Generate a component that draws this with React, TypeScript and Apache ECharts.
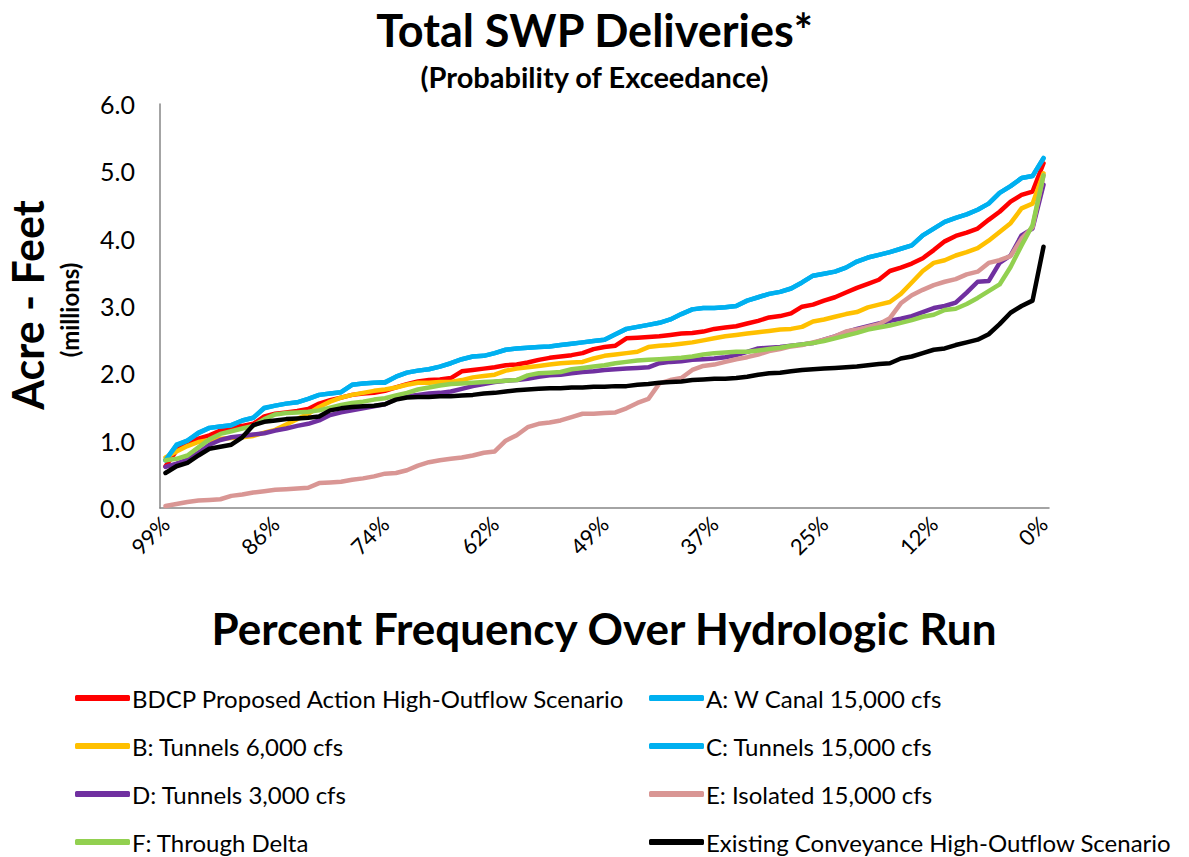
import React, { useEffect, useRef } from "react";
import * as echarts from "echarts";

const FONT = "Lato, 'Open Sans', sans-serif";

const seriesNames = [
  "BDCP Proposed Action High-Outflow Scenario",
  "A: W Canal 15,000 cfs",
  "B: Tunnels 6,000 cfs",
  "C: Tunnels 15,000 cfs",
  "D: Tunnels 3,000 cfs",
  "E: Isolated 15,000 cfs",
  "F: Through Delta",
  "Existing Conveyance High-Outflow Scenario",
];
const seriesColors = ["#FF0000", "#00B0F0", "#FFC000", "#00B0F0", "#7030A0", "#D99694", "#92D050", "#000000"];

// Exceedance categories (81 sorted years), shown every 10th
const categories = [
  "99%","98%","96%","95%","94%","93%","91%","90%","89%","88%",
  "86%","85%","84%","83%","81%","80%","79%","78%","77%","75%",
  "74%","73%","72%","70%","69%","68%","67%","65%","64%","63%",
  "62%","60%","59%","58%","57%","56%","54%","53%","52%","51%",
  "49%","48%","47%","46%","44%","43%","42%","41%","40%","38%",
  "37%","36%","35%","33%","32%","31%","30%","28%","27%","26%",
  "25%","23%","22%","21%","20%","19%","17%","16%","15%","14%",
  "12%","11%","10%","9%","7%","6%","5%","4%","2%","1%",
  "0%",
];

const yTicks = [0, 1, 2, 3, 4, 5, 6];

const bdcp = [
  0.62,0.85,0.98,1.03,1.08,1.15,1.20,1.22,1.25,1.36,
  1.40,1.42,1.44,1.47,1.55,1.60,1.64,1.68,1.70,1.71,
  1.74,1.79,1.84,1.88,1.90,1.91,1.93,2.03,2.05,2.07,
  2.09,2.12,2.13,2.16,2.20,2.23,2.25,2.27,2.30,2.36,
  2.39,2.41,2.52,2.53,2.54,2.55,2.57,2.59,2.60,2.62,
  2.66,2.68,2.70,2.74,2.78,2.83,2.85,2.89,2.99,3.02,
  3.08,3.13,3.20,3.27,3.33,3.39,3.52,3.57,3.63,3.71,
  3.83,3.96,4.04,4.09,4.15,4.28,4.40,4.55,4.65,4.70,
  5.12,
];
const altA = [
  0.71,0.94,1.00,1.12,1.19,1.21,1.23,1.30,1.34,1.49,
  1.52,1.55,1.57,1.62,1.68,1.70,1.72,1.83,1.85,1.86,
  1.86,1.95,2.01,2.04,2.06,2.10,2.15,2.21,2.25,2.26,
  2.30,2.35,2.37,2.38,2.39,2.40,2.42,2.44,2.46,2.48,
  2.50,2.58,2.66,2.69,2.72,2.75,2.80,2.88,2.95,2.97,
  2.97,2.98,3.00,3.08,3.13,3.18,3.21,3.26,3.35,3.45,
  3.48,3.51,3.57,3.66,3.72,3.76,3.80,3.85,3.90,4.05,
  4.15,4.25,4.31,4.36,4.43,4.52,4.68,4.78,4.90,4.93,
  5.20,
];
const altB = [
  0.75,0.84,0.92,0.98,1.01,1.03,1.04,1.05,1.07,1.12,
  1.16,1.24,1.32,1.40,1.50,1.58,1.64,1.68,1.71,1.74,
  1.76,1.79,1.83,1.86,1.86,1.87,1.87,1.90,1.94,1.96,
  1.98,2.04,2.07,2.09,2.11,2.13,2.15,2.16,2.17,2.22,
  2.26,2.28,2.30,2.32,2.39,2.41,2.42,2.44,2.46,2.49,
  2.52,2.55,2.57,2.59,2.61,2.63,2.65,2.66,2.69,2.77,
  2.80,2.84,2.88,2.91,2.98,3.02,3.06,3.18,3.35,3.52,
  3.64,3.68,3.75,3.80,3.86,3.97,4.10,4.23,4.45,4.52,
  4.97,
];
const altC = [
  0.71,0.93,1.00,1.11,1.19,1.21,1.23,1.30,1.34,1.48,
  1.52,1.55,1.57,1.62,1.68,1.70,1.72,1.83,1.85,1.86,
  1.87,1.95,2.01,2.04,2.06,2.10,2.15,2.21,2.25,2.26,
  2.30,2.35,2.37,2.38,2.39,2.40,2.42,2.44,2.46,2.48,
  2.50,2.58,2.66,2.69,2.72,2.75,2.80,2.88,2.95,2.97,
  2.97,2.98,3.00,3.08,3.13,3.18,3.21,3.26,3.35,3.45,
  3.48,3.51,3.57,3.66,3.72,3.76,3.80,3.85,3.90,4.05,
  4.15,4.25,4.31,4.36,4.43,4.52,4.68,4.78,4.90,4.93,
  5.19,
];
const altD = [
  0.61,0.66,0.72,0.82,0.94,1.01,1.05,1.07,1.09,1.11,
  1.15,1.18,1.22,1.25,1.30,1.38,1.42,1.45,1.48,1.51,
  1.54,1.62,1.66,1.68,1.70,1.71,1.73,1.77,1.81,1.84,
  1.87,1.89,1.90,1.92,1.95,1.97,1.98,2.00,2.02,2.03,
  2.05,2.06,2.07,2.08,2.09,2.15,2.17,2.18,2.20,2.21,
  2.22,2.24,2.27,2.32,2.37,2.38,2.39,2.41,2.43,2.45,
  2.50,2.55,2.61,2.66,2.70,2.74,2.78,2.81,2.85,2.91,
  2.97,3.00,3.05,3.20,3.36,3.37,3.64,3.75,4.05,4.15,
  4.80,
];
const altE = [
  0.03,0.06,0.09,0.11,0.12,0.13,0.18,0.20,0.23,0.25,
  0.27,0.28,0.29,0.30,0.37,0.38,0.39,0.42,0.44,0.47,
  0.51,0.52,0.56,0.63,0.68,0.71,0.73,0.75,0.78,0.82,
  0.84,1.00,1.08,1.20,1.25,1.27,1.30,1.35,1.40,1.40,
  1.41,1.42,1.48,1.56,1.62,1.85,1.90,1.93,2.05,2.11,
  2.13,2.17,2.21,2.24,2.28,2.33,2.36,2.40,2.42,2.46,
  2.50,2.55,2.62,2.65,2.69,2.73,2.82,3.04,3.16,3.24,
  3.31,3.36,3.40,3.47,3.51,3.64,3.68,3.74,4.00,4.17,
  4.94,
];
const altF = [
  0.71,0.73,0.78,0.90,1.02,1.10,1.14,1.18,1.22,1.32,
  1.39,1.41,1.42,1.43,1.45,1.49,1.53,1.56,1.58,1.61,
  1.63,1.67,1.71,1.76,1.79,1.82,1.84,1.85,1.86,1.87,
  1.88,1.89,1.90,1.97,2.00,2.01,2.02,2.06,2.08,2.10,
  2.12,2.15,2.17,2.19,2.20,2.21,2.22,2.23,2.25,2.28,
  2.30,2.31,2.32,2.32,2.34,2.36,2.38,2.41,2.43,2.45,
  2.48,2.52,2.56,2.60,2.65,2.68,2.71,2.75,2.79,2.84,
  2.87,2.94,2.96,3.03,3.12,3.22,3.32,3.58,3.90,4.20,
  4.94,
];
const existing = [
  0.52,0.62,0.67,0.78,0.88,0.91,0.94,1.05,1.23,1.28,
  1.30,1.32,1.33,1.34,1.36,1.45,1.48,1.50,1.51,1.52,
  1.54,1.61,1.64,1.65,1.65,1.66,1.66,1.67,1.68,1.70,
  1.71,1.73,1.75,1.76,1.77,1.78,1.78,1.79,1.79,1.80,
  1.80,1.81,1.81,1.83,1.84,1.86,1.87,1.88,1.90,1.91,
  1.92,1.92,1.93,1.95,1.98,2.00,2.01,2.03,2.05,2.06,
  2.07,2.08,2.09,2.10,2.12,2.14,2.15,2.22,2.25,2.30,
  2.35,2.37,2.42,2.46,2.50,2.58,2.73,2.90,3.00,3.08,
  3.88,
];

const seriesData = [bdcp, altA, altB, altC, altD, altE, altF, existing];

export default function App() {
  const ref = useRef<HTMLDivElement>(null);
  useEffect(() => {
    if (!ref.current) return;
    const chart = echarts.init(ref.current, null, { renderer: "svg" });
    const legendText = { fontSize: 24, fontFamily: FONT, color: "#000", padding: [0, 0, 0, -3] };
    const legendBase = {
      orient: "vertical",
      top: 686,
      height: 170,
      padding: 0,
      itemGap: 24,
      itemWidth: 55,
      itemHeight: 6,
      icon: "roundRect",
      textStyle: legendText,
    };
    chart.setOption({
      animation: false,
      backgroundColor: "#fff",
      title: [
        {
          text: "Total SWP Deliveries*",
          left: "center",
          top: 2,
          textStyle: { fontSize: 45, fontWeight: "bold", fontFamily: FONT, color: "#000" },
        },
        {
          text: "(Probability of Exceedance)",
          left: "center",
          top: 57,
          textStyle: { fontSize: 29, fontWeight: "bold", fontFamily: FONT, color: "#000" },
        },
      ],
      grid: { left: 160, top: 104, width: 889, height: 404, containLabel: false },
      xAxis: {
        type: "category",
        data: categories,
        boundaryGap: true,
        axisLine: { show: true, lineStyle: { color: "#868686", width: 1.5 } },
        axisTick: { show: false },
        axisLabel: {
          interval: 9,
          rotate: 45,
          fontSize: 22,
          fontFamily: FONT,
          color: "#000",
          margin: 12,
        },
        splitLine: { show: false },
      },
      yAxis: {
        type: "value",
        min: yTicks[0],
        max: yTicks[yTicks.length - 1],
        interval: 1,
        axisLine: { show: true, lineStyle: { color: "#868686", width: 1.5 } },
        axisTick: { show: false },
        axisLabel: {
          fontSize: 25,
          fontFamily: FONT,
          color: "#000",
          margin: 25,
          formatter: (v: number) => v.toFixed(1),
        },
        splitLine: { show: false },
      },
      legend: [
        {
          ...legendBase,
          left: 75,
          data: [seriesNames[0], seriesNames[2], seriesNames[4], seriesNames[6]],
        },
        {
          ...legendBase,
          left: 649,
          data: [seriesNames[1], seriesNames[3], seriesNames[5], seriesNames[7]],
        },
      ],
      graphic: [
        {
          type: "text",
          x: 27,
          y: 305,
          rotation: Math.PI / 2,
          style: {
            text: "Acre - Feet",
            fontSize: 43,
            fontWeight: "bold",
            fontFamily: FONT,
            fill: "#000",
            textAlign: "center",
            textVerticalAlign: "middle",
          },
        },
        {
          type: "text",
          x: 69,
          y: 310,
          rotation: Math.PI / 2,
          style: {
            text: "(millions)",
            fontSize: 24,
            fontWeight: "bold",
            fontFamily: FONT,
            fill: "#000",
            textAlign: "center",
            textVerticalAlign: "middle",
          },
        },
        {
          type: "text",
          x: 604,
          y: 628,
          style: {
            text: "Percent Frequency Over Hydrologic Run",
            fontSize: 44,
            fontWeight: "bold",
            fontFamily: FONT,
            fill: "#000",
            textAlign: "center",
            textVerticalAlign: "middle",
          },
        },
      ],
      series: seriesNames.map((name, k) => ({
        name,
        type: "line",
        data: seriesData[k],
        symbol: "none",
        smooth: false,
        z: 2 + k,
        lineStyle: { color: seriesColors[k], width: 4.5, cap: "round", join: "round" },
        itemStyle: { color: seriesColors[k] },
      })),
    });
    return () => chart.dispose();
  }, []);
  return (
    <div
      ref={ref}
      style={{ position: "fixed", left: 0, top: 0, width: 1189, height: 857 }}
    />
  );
}
